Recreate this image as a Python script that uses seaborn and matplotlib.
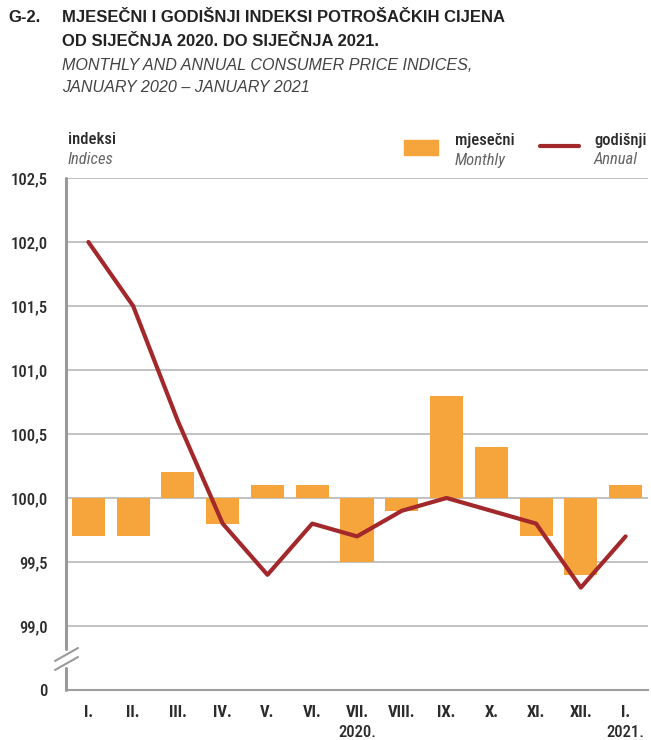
import numpy as np
import pandas as pd
import matplotlib
matplotlib.use("Agg")
import matplotlib.pyplot as plt
import seaborn as sns
from matplotlib.lines import Line2D
from matplotlib.patches import Rectangle

months = ["I.", "II.", "III.", "IV.", "V.", "VI.", "VII.", "VIII.", "IX.", "X.", "XI.", "XII.", "I."]
years = ["", "", "", "", "", "", "2020.", "", "", "", "", "", "2021."]
monthly = [99.7, 99.7, 100.2, 99.8, 100.1, 100.1, 99.5, 99.9, 100.8, 100.4, 99.7, 99.4, 100.1]
annual = [102.0, 101.5, 100.6, 99.8, 99.4, 99.8, 99.7, 99.9, 100.0, 99.9, 99.8, 99.3, 99.7]
ytick_vals = [98.5, 99.0, 99.5, 100.0, 100.5, 101.0, 101.5, 102.0, 102.5]
ytick_labels = ["0", "99,0", "99,5", "100,0", "100,5", "101,0", "101,5", "102,0", "102,5"]

sns.set_style("white")
plt.rcParams['font.family'] = ['Roboto Condensed', 'DejaVu Sans']
TITLE_FAMILY = ['Liberation Sans', 'DejaVu Sans']

ORANGE = "#F6A53C"
RED = "#A3282B"
GRID = "#BDBDBD"
TXT = "#2b2b2b"

W, H = 651, 740
fig = plt.figure(figsize=(W / 100, H / 100), dpi=100)
ax = fig.add_axes([66 / W, 1 - 690 / H, 582 / W, 512 / H])

df = pd.DataFrame({"pos": np.arange(len(months)), "monthly": monthly, "annual": annual})
df["dev"] = df["monthly"] - 100.0

sns.barplot(data=df, x="pos", y="dev", bottom=100.0, color=ORANGE, width=0.74,
            errorbar=None, saturation=1, ax=ax, zorder=2, linewidth=0)
sns.lineplot(data=df, x="pos", y="annual", color=RED, linewidth=3, ax=ax, zorder=3)

ax.set_xlim(-0.5, len(months) - 0.5)
ax.set_ylim(98.5, 102.5)
for v in ytick_vals[1:]:
    ax.axhline(v, color=GRID, linewidth=1.3, zorder=1)

ax.set_yticks(ytick_vals)
ax.set_yticklabels(ytick_labels, fontsize=12, color=TXT, fontweight="medium")
ax.tick_params(axis="y", length=0, pad=13)
ax.set_xticks(np.arange(len(months)))
ax.set_xticklabels(months, fontsize=12, color=TXT, fontweight="bold")
ax.tick_params(axis="x", length=0, pad=11)
for i, y in enumerate(years):
    if y:
        ax.text(i, -0.068, y, transform=ax.get_xaxis_transform(), ha="center", va="top",
                fontsize=12, color=TXT, fontweight="medium")
ax.set_xlabel("")
ax.set_ylabel("")

for s in ["top", "right", "left"]:
    ax.spines[s].set_visible(False)
ax.spines["bottom"].set_color("#A0A0A0")
ax.spines["bottom"].set_linewidth(1.5)

# left spine with break
yt = ax.get_yaxis_transform()
ax.plot([0, 0], [98.82, 102.5], transform=yt, color="#9A9A9A", lw=2.2, clip_on=False, zorder=4)
ax.plot([0, 0], [98.5, 98.67], transform=yt, color="#9A9A9A", lw=2.2, clip_on=False, zorder=4)
def fx(px):
    return px / W
def fy(py):
    return 1 - py / H
for dy in (0, 9):
    fig.add_artist(Line2D([fx(55), fx(78)], [fy(661 + dy), fy(648 + dy)], color="#9A9A9A", lw=1.5))

# Titles
TB = 12.0
TI = 11.6
fig.text(fx(8), fy(18), "G-2.", fontsize=TB, fontweight="bold", color="#222222", va="center",
         family=TITLE_FAMILY)
fig.text(fx(62), fy(18), "MJESEČNI I GODIŠNJI INDEKSI POTROŠAČKIH CIJENA", fontsize=TB,
         fontweight="bold", color="#222222", va="center", family=TITLE_FAMILY)
fig.text(fx(62), fy(42), "OD SIJEČNJA 2020. DO SIJEČNJA 2021.", fontsize=TB,
         fontweight="bold", color="#222222", va="center", family=TITLE_FAMILY)
fig.text(fx(62), fy(65), "MONTHLY AND ANNUAL CONSUMER PRICE INDICES,", fontsize=TI,
         style="italic", color="#444444", va="center", family=TITLE_FAMILY)
fig.text(fx(62), fy(87), "JANUARY 2020 – JANUARY 2021", fontsize=TI,
         style="italic", color="#444444", va="center", family=TITLE_FAMILY)

# axis caption
fig.text(fx(68), fy(140), "indeksi", fontsize=12, color=TXT, va="center", fontweight="medium")
fig.text(fx(68), fy(160), "Indices", fontsize=12, style="italic", color="#666666", va="center")

# legend
fig.add_artist(Rectangle((fx(404), fy(155)), fx(438) - fx(404), fy(140) - fy(155), color=ORANGE,
                         transform=fig.transFigure))
fig.text(fx(455), fy(140), "mjesečni", fontsize=12, color=TXT, va="center", fontweight="medium")
fig.text(fx(455), fy(160), "Monthly", fontsize=12, style="italic", color="#666666", va="center")
fig.add_artist(Line2D([fx(540), fx(579)], [fy(146), fy(146)], color=RED, lw=3))
fig.text(fx(594), fy(140), "godišnji", fontsize=12, color=TXT, va="center", fontweight="medium")
fig.text(fx(594), fy(160), "Annual", fontsize=12, style="italic", color="#666666", va="center")

fig.savefig("out.png", dpi=100)
